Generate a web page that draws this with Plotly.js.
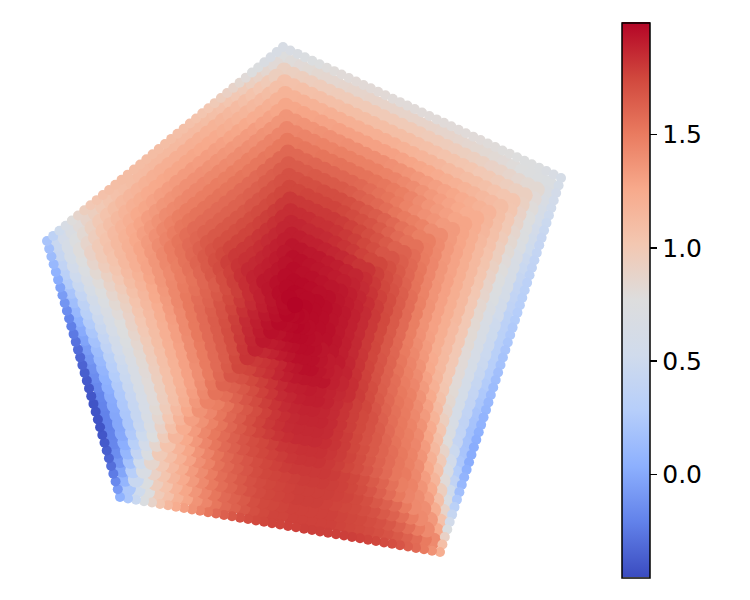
<!DOCTYPE html>
<html><head><meta charset="utf-8"><script src="https://cdn.plot.ly/plotly-3.0.0.min.js"></script>
<style>html,body{margin:0;padding:0;background:#fff}</style></head>
<body><div id="chart" style="width:750px;height:600px"></div>
<script>
const xCorners=[2.83,5.61,4.40,1.20,0.47];
const yCorners=[5.53,4.22,0.48,1.03,3.59];
const xMiddle=2.95, yMiddle=2.95;
const tickValues=[0,0.5,1,1.5];
const tickLabels=["0.0","0.5","1.0","1.5"];
const colorMin=-0.454, colorMax=1.994;
const coolwarm=[[0,"#3b4cc0"],[0.1,"#6282ea"],[0.2,"#8db0fe"],[0.3,"#b6cefa"],[0.4,"#d0dbec"],[0.5,"#dddddd"],[0.6,"#f3c7b1"],[0.7,"#f7a98b"],[0.8,"#e97a5f"],[0.9,"#d0473d"],[1,"#b40426"]];
const borderTopRight=[.65,.67,.7,.72,.74,.76,.78,.79,.8,.8,.81,.81,.81,.81,.81,.8,.8,.8,.8,.8,.8,.8,.8,.8,.8,.8,.8,.8,.79,.79,.78,.78,.77,.76,.75,.73,.7,.67];
const borderRight=[.62,.6,.58,.56,.54,.51,.48,.46,.44,.42,.41,.39,.38,.36,.34,.33,.31,.3,.28,.27,.25,.24,.22,.21,.19,.18,.16,.15,.13,.12,.1,.09,.07,.06,.04,.03,.02,.02,.02,.04,.07,.1,.16,.24,.33,.43,.56,.72,.9,1.08];
const borderBottom=[1.22,1.38,1.5,1.58,1.63,1.68,1.71,1.73,1.75,1.76,1.77,1.78,1.78,1.78,1.78,1.78,1.78,1.78,1.77,1.77,1.76,1.76,1.75,1.74,1.72,1.7,1.67,1.63,1.58,1.52,1.45,1.38,1.31,1.23,1.14,1.02,.88,.72,.46,.22];
const borderLeft=[.05,-.08,-.17,-.24,-.3,-.34,-.37,-.39,-.41,-.42,-.42,-.42,-.42,-.41,-.4,-.39,-.37,-.35,-.33,-.31,-.28,-.25,-.22,-.19,-.15,-.11,-.07,-.03,.02,.06,.1,.13,.16];
const borderTopLeft=[.2,.36,.52,.66,.78,.87,.94,1,1.03,1.06,1.08,1.09,1.1,1.1,1.1,1.1,1.1,1.1,1.1,1.09,1.09,1.08,1.07,1.06,1.05,1.03,1.01,.98,.95,.91,.88,.84,.8,.76,.73,.7,.67,.65];
const wedgeTopRight=[
[.77,.79,.81,.82,.84,.85,.85,.86,.87,.87,.88,.88,.88,.88,.88,.88,.88,.88,.87,.87,.86,.85,.84,.83,.82,.81,.79,.77,.75,.73],
[.92,.93,.94,.95,.96,.96,.97,.97,.98,.98,.98,.98,.98,.98,.98,.98,.97,.97,.96,.95,.94,.93,.92,.9,.89,.87,.85,.83],
[1.06,1.06,1.07,1.07,1.08,1.08,1.08,1.09,1.09,1.09,1.09,1.09,1.09,1.09,1.09,1.08,1.07,1.06,1.05,1.04,1.03,1.02,1,.99,.97,.95,.93],
[1.18,1.18,1.19,1.19,1.19,1.2,1.2,1.2,1.2,1.2,1.2,1.2,1.2,1.19,1.18,1.17,1.16,1.15,1.13,1.12,1.1,1.09,1.07,1.05,1.03],
[1.27,1.27,1.28,1.28,1.29,1.29,1.3,1.3,1.3,1.3,1.3,1.3,1.3,1.29,1.28,1.27,1.26,1.24,1.22,1.2,1.18,1.16,1.14,1.12],
[1.36,1.36,1.37,1.37,1.38,1.39,1.39,1.4,1.4,1.4,1.4,1.4,1.39,1.38,1.37,1.35,1.33,1.31,1.29,1.27,1.24,1.22,1.19],
[1.44,1.44,1.45,1.45,1.46,1.46,1.47,1.47,1.47,1.47,1.47,1.46,1.45,1.43,1.41,1.38,1.35,1.32,1.29,1.26,1.23],
[1.51,1.51,1.52,1.52,1.53,1.53,1.54,1.54,1.54,1.54,1.53,1.52,1.5,1.48,1.45,1.41,1.37,1.34,1.31,1.28],
[1.59,1.59,1.59,1.6,1.6,1.6,1.6,1.6,1.59,1.57,1.55,1.53,1.5,1.46,1.42,1.39,1.37,1.34],
[1.65,1.65,1.65,1.66,1.66,1.66,1.66,1.65,1.63,1.61,1.59,1.56,1.53,1.5,1.48,1.46,1.41],
[1.7,1.7,1.71,1.71,1.72,1.72,1.72,1.71,1.69,1.67,1.65,1.62,1.59,1.55,1.52,1.48],
[1.75,1.75,1.76,1.76,1.76,1.76,1.75,1.73,1.71,1.69,1.66,1.62,1.58,1.55],
[1.8,1.8,1.8,1.8,1.8,1.8,1.79,1.77,1.75,1.72,1.69,1.66,1.62],
[1.84,1.84,1.84,1.83,1.83,1.82,1.8,1.78,1.75,1.72,1.68],
[1.87,1.87,1.86,1.86,1.85,1.84,1.82,1.8,1.77,1.75],
[1.9,1.9,1.89,1.89,1.88,1.87,1.86,1.84,1.82],
[1.93,1.93,1.92,1.92,1.91,1.9,1.88],
[1.95,1.95,1.94,1.93,1.92,1.91],
[1.96,1.95,1.95,1.94],
[1.97,1.97,1.96],
[1.98,1.97]];
const wedgeRight=[
[.72,.7,.67,.64,.61,.58,.55,.52,.49,.46,.43,.41,.39,.37,.35,.34,.33,.32,.31,.3,.28,.26,.24,.22,.2,.19,.18,.19,.2,.23,.28,.38,.52,.7,.88,1.06,1.25],
[.83,.81,.79,.77,.75,.73,.71,.68,.66,.64,.62,.6,.57,.54,.51,.5,.49,.48,.47,.45,.43,.41,.4,.39,.38,.39,.42,.48,.56,.67,.8,.94,1.08,1.22,1.35],
[.93,.92,.9,.88,.86,.84,.82,.8,.78,.76,.74,.72,.7,.68,.66,.65,.64,.63,.62,.61,.6,.6,.6,.62,.65,.7,.78,.88,.98,1.07,1.16,1.25,1.32,1.4],
[1.03,1.02,1,.99,.97,.95,.94,.92,.9,.88,.87,.85,.84,.83,.82,.82,.81,.81,.81,.81,.82,.84,.88,.94,1.02,1.08,1.14,1.2,1.26,1.32,1.37,1.41],
[1.1,1.09,1.08,1.07,1.06,1.05,1.04,1.03,1.02,1.01,1,1,1,1,1,1,1,1,1.01,1.03,1.07,1.12,1.18,1.24,1.28,1.33,1.37,1.41,1.43,1.46],
[1.17,1.16,1.15,1.14,1.13,1.13,1.13,1.13,1.13,1.13,1.13,1.13,1.12,1.12,1.12,1.13,1.14,1.16,1.2,1.25,1.3,1.34,1.38,1.42,1.44,1.46,1.47,1.5],
[1.23,1.23,1.22,1.22,1.22,1.22,1.22,1.22,1.22,1.22,1.22,1.22,1.22,1.22,1.22,1.24,1.26,1.3,1.34,1.38,1.41,1.43,1.46,1.48,1.49,1.51,1.52],
[1.28,1.28,1.28,1.29,1.29,1.29,1.3,1.3,1.3,1.3,1.3,1.3,1.31,1.33,1.35,1.38,1.41,1.44,1.47,1.49,1.5,1.51,1.52,1.54,1.56],
[1.34,1.34,1.35,1.35,1.36,1.36,1.37,1.37,1.38,1.38,1.38,1.39,1.41,1.43,1.45,1.47,1.49,1.51,1.53,1.55,1.56,1.58,1.6],
[1.41,1.42,1.43,1.44,1.44,1.45,1.46,1.47,1.48,1.48,1.48,1.49,1.5,1.52,1.54,1.56,1.57,1.59,1.61,1.63,1.65],
[1.48,1.49,1.5,1.52,1.53,1.54,1.56,1.57,1.58,1.58,1.58,1.59,1.6,1.61,1.62,1.63,1.64,1.66,1.68,1.7],
[1.55,1.57,1.59,1.6,1.62,1.64,1.65,1.66,1.66,1.66,1.67,1.67,1.68,1.69,1.7,1.72,1.73,1.75],
[1.62,1.64,1.66,1.68,1.7,1.72,1.73,1.74,1.74,1.74,1.75,1.75,1.76,1.77,1.78,1.79],
[1.68,1.71,1.73,1.75,1.77,1.79,1.8,1.8,1.8,1.8,1.81,1.82,1.83,1.84],
[1.75,1.78,1.8,1.82,1.84,1.85,1.85,1.85,1.86,1.86,1.87,1.88],
[1.82,1.84,1.85,1.87,1.88,1.89,1.89,1.89,1.9,1.9,1.91],
[1.87,1.88,1.9,1.91,1.92,1.92,1.92,1.93,1.93],
[1.9,1.92,1.93,1.94,1.94,1.95,1.95],
[1.93,1.95,1.96,1.96,1.96],
[1.95,1.97,1.97,1.97],
[1.97,1.98]];
const wedgeBottom=[
[1.42,1.5,1.57,1.62,1.66,1.69,1.71,1.73,1.74,1.75,1.76,1.77,1.77,1.77,1.77,1.77,1.76,1.76,1.74,1.71,1.67,1.62,1.58,1.52,1.44,1.37,1.27,1.18,1.06,.97,.75,.52],
[1.42,1.49,1.56,1.62,1.67,1.7,1.72,1.74,1.75,1.76,1.77,1.77,1.77,1.77,1.77,1.76,1.75,1.74,1.71,1.66,1.62,1.58,1.52,1.44,1.36,1.27,1.17,1.05,.95,.72],
[1.42,1.49,1.56,1.62,1.66,1.7,1.72,1.74,1.75,1.76,1.77,1.78,1.78,1.78,1.77,1.76,1.75,1.73,1.7,1.66,1.61,1.56,1.5,1.42,1.34,1.24,1.15,1.03,.9],
[1.42,1.5,1.58,1.63,1.67,1.71,1.74,1.76,1.77,1.78,1.78,1.78,1.78,1.77,1.76,1.75,1.73,1.7,1.66,1.61,1.56,1.49,1.41,1.33,1.22,1.12,1],
[1.45,1.51,1.57,1.63,1.68,1.72,1.75,1.77,1.78,1.79,1.79,1.79,1.78,1.77,1.76,1.75,1.72,1.68,1.64,1.59,1.54,1.46,1.39,1.29,1.19,1.08],
[1.48,1.55,1.61,1.66,1.71,1.75,1.77,1.79,1.8,1.8,1.8,1.8,1.79,1.77,1.75,1.72,1.68,1.64,1.59,1.53,1.45,1.37,1.27,1.17],
[1.52,1.58,1.63,1.68,1.72,1.75,1.78,1.8,1.82,1.82,1.82,1.81,1.79,1.77,1.75,1.72,1.68,1.63,1.58,1.52,1.44,1.35,1.25],
[1.57,1.62,1.67,1.72,1.76,1.79,1.81,1.83,1.83,1.83,1.82,1.81,1.78,1.75,1.72,1.68,1.63,1.57,1.51,1.43,1.33],
[1.61,1.66,1.71,1.75,1.79,1.82,1.84,1.85,1.85,1.85,1.84,1.82,1.79,1.76,1.71,1.66,1.6,1.53,1.46,1.38],
[1.66,1.7,1.75,1.79,1.82,1.85,1.86,1.86,1.86,1.85,1.83,1.8,1.76,1.71,1.65,1.59,1.52,1.44],
[1.7,1.74,1.78,1.82,1.85,1.87,1.87,1.87,1.86,1.84,1.81,1.77,1.72,1.67,1.61,1.54,1.48],
[1.74,1.78,1.82,1.85,1.87,1.88,1.88,1.87,1.85,1.82,1.78,1.73,1.68,1.62,1.56],
[1.78,1.82,1.85,1.88,1.9,1.9,1.89,1.87,1.85,1.81,1.77,1.72,1.67,1.63],
[1.84,1.86,1.88,1.9,1.91,1.9,1.89,1.86,1.82,1.78,1.74,1.7],
[1.87,1.89,1.93,1.93,1.93,1.92,1.9,1.87,1.83,1.8,1.76],
[1.89,1.91,1.93,1.95,1.95,1.93,1.91,1.87,1.84,1.82,1.8],
[1.91,1.93,1.95,1.95,1.95,1.93,1.91,1.88,1.86],
[1.93,1.95,1.96,1.96,1.95,1.94,1.92,1.91],
[1.95,1.96,1.97,1.97,1.96,1.94],
[1.96,1.97,1.98,1.97,1.96],
[1.97,1.98,1.97]];
const wedgeLeft=[
[.22,.08,-.02,-.1,-.15,-.18,-.2,-.21,-.21,-.2,-.19,-.17,-.15,-.13,-.1,-.07,-.03,.01,.05,.1,.15,.2,.26,.32,.38,.43],
[.45,.3,.18,.09,.03,0,-.01,-.01,0,.01,.03,.05,.08,.11,.14,.18,.22,.26,.31,.36,.41,.46,.51,.56,.6],
[.68,.52,.4,.31,.25,.22,.22,.23,.24,.25,.27,.3,.33,.37,.41,.45,.49,.53,.57,.62,.67,.71,.75],
[.86,.7,.58,.5,.45,.43,.43,.44,.45,.46,.48,.51,.54,.57,.61,.64,.67,.71,.75,.79,.83,.87],
[.98,.86,.76,.69,.65,.63,.63,.64,.65,.66,.68,.7,.72,.75,.77,.8,.83,.86,.89,.92,.96],
[1.05,.97,.9,.85,.82,.8,.8,.8,.81,.82,.83,.85,.87,.89,.9,.92,.94,.97,1,1.03],
[1.15,1.07,1.01,.97,.95,.94,.94,.95,.96,.97,.98,1,1.01,1.03,1.05,1.07,1.1,1.12],
[1.23,1.17,1.12,1.08,1.07,1.07,1.07,1.08,1.08,1.09,1.1,1.11,1.12,1.14,1.15,1.17,1.19],
[1.31,1.26,1.22,1.2,1.19,1.19,1.19,1.2,1.2,1.21,1.21,1.22,1.23,1.25,1.26,1.28],
[1.38,1.35,1.32,1.3,1.3,1.3,1.3,1.3,1.31,1.31,1.32,1.33,1.34,1.35,1.36],
[1.46,1.43,1.41,1.4,1.4,1.41,1.41,1.41,1.42,1.42,1.42,1.43,1.43,1.43],
[1.54,1.52,1.5,1.5,1.5,1.5,1.51,1.51,1.51,1.51,1.51,1.5],
[1.61,1.59,1.58,1.58,1.58,1.58,1.58,1.58,1.58,1.57,1.55],
[1.68,1.66,1.65,1.65,1.65,1.65,1.65,1.64,1.62,1.61],
[1.75,1.74,1.72,1.72,1.72,1.71,1.7,1.69,1.67],
[1.82,1.81,1.8,1.79,1.78,1.76,1.74],
[1.88,1.87,1.86,1.85,1.83,1.8],
[1.92,1.91,1.9,1.88,1.85],
[1.95,1.94,1.92,1.9],
[1.97,1.95,1.94],
[1.98,1.97]];
const wedgeTopLeft=[
[.45,.58,.7,.8,.88,.94,.99,1.03,1.06,1.08,1.1,1.11,1.12,1.13,1.13,1.13,1.13,1.12,1.12,1.11,1.1,1.08,1.06,1.03,1,.97,.93,.89,.85,.81],
[.62,.73,.83,.92,.99,1.05,1.09,1.13,1.15,1.17,1.19,1.2,1.21,1.21,1.21,1.21,1.21,1.2,1.19,1.18,1.16,1.14,1.11,1.08,1.05,1.01,.98,.94],
[.78,.87,.95,1.02,1.08,1.13,1.17,1.2,1.22,1.24,1.25,1.26,1.27,1.27,1.27,1.27,1.26,1.25,1.24,1.22,1.2,1.18,1.16,1.14,1.12,1.1,1.07],
[.9,.98,1.05,1.12,1.17,1.21,1.25,1.27,1.29,1.31,1.32,1.33,1.33,1.33,1.32,1.32,1.31,1.3,1.28,1.27,1.25,1.23,1.22,1.2,1.18],
[.98,1.06,1.13,1.19,1.24,1.28,1.32,1.34,1.36,1.37,1.38,1.39,1.39,1.39,1.38,1.37,1.36,1.35,1.34,1.33,1.32,1.3,1.29,1.27],
[1.05,1.13,1.2,1.26,1.31,1.35,1.38,1.41,1.42,1.43,1.44,1.44,1.44,1.43,1.43,1.42,1.41,1.41,1.4,1.39,1.38,1.37,1.36],
[1.14,1.21,1.28,1.34,1.39,1.43,1.46,1.48,1.49,1.49,1.49,1.49,1.49,1.48,1.48,1.47,1.47,1.46,1.45,1.45,1.44],
[1.21,1.28,1.35,1.41,1.45,1.49,1.52,1.53,1.54,1.54,1.54,1.54,1.53,1.53,1.53,1.52,1.52,1.52,1.51,1.51],
[1.29,1.36,1.43,1.49,1.53,1.56,1.58,1.58,1.58,1.58,1.58,1.58,1.58,1.58,1.58,1.59,1.59,1.59],
[1.36,1.43,1.49,1.54,1.58,1.6,1.62,1.62,1.62,1.62,1.62,1.62,1.63,1.63,1.64,1.64,1.65],
[1.42,1.48,1.54,1.59,1.63,1.66,1.67,1.67,1.67,1.67,1.67,1.68,1.68,1.69,1.69,1.7],
[1.49,1.55,1.61,1.66,1.69,1.71,1.71,1.71,1.72,1.72,1.73,1.73,1.74,1.75],
[1.54,1.6,1.66,1.71,1.74,1.76,1.76,1.76,1.76,1.77,1.78,1.79,1.8],
[1.6,1.67,1.73,1.78,1.8,1.8,1.8,1.81,1.82,1.83,1.84],
[1.65,1.72,1.77,1.82,1.83,1.83,1.84,1.85,1.86,1.87],
[1.72,1.78,1.83,1.86,1.86,1.87,1.88,1.89,1.9],
[1.78,1.84,1.88,1.89,1.9,1.91,1.92],
[1.84,1.88,1.92,1.92,1.93,1.94],
[1.89,1.93,1.95,1.96],
[1.93,1.96,1.97],
[1.96,1.98]];
const middleValue=[1.99];

const wedges=[wedgeTopRight,wedgeRight,wedgeBottom,wedgeLeft,wedgeTopLeft];
const borders=[borderTopRight,borderRight,borderBottom,borderLeft,borderTopLeft];
const ringCount=22;
function place(row,side,shrink,xs,ys,cs){
  const a=side,b=(side+1)%5;
  row.forEach((v,i)=>{
    const u=i/row.length;
    xs.push(xMiddle+shrink*(xCorners[a]+u*(xCorners[b]-xCorners[a])-xMiddle));
    ys.push(yMiddle+shrink*(yCorners[a]+u*(yCorners[b]-yCorners[a])-yMiddle));
    cs.push(v);
  });
}
const ix=[],iy=[],ic=[];
for(let k=0;k<ringCount-1;k++){
  wedges.forEach((w,s)=>place(w[k],s,1-(k+1)/ringCount,ix,iy,ic));
}
ix.push(xMiddle);iy.push(yMiddle);ic.push(middleValue[0]);
const bx=[],by=[],bc=[];
borders.forEach((r,s)=>place(r,s,1,bx,by,bc));
const shared={colorscale:coolwarm,cmin:colorMin,cmax:colorMax,line:{width:0}};
const traces=[
 {type:"scatter",mode:"markers",x:ix,y:iy,hoverinfo:"skip",showlegend:false,
  marker:Object.assign({size:16,color:ic,opacity:1},shared)},
 {type:"scatter",mode:"markers",x:bx,y:by,hoverinfo:"skip",showlegend:false,
  marker:Object.assign({size:10,color:bc,opacity:1,showscale:true,colorbar:{
    thickness:28,thicknessmode:"pixels",len:555,lenmode:"pixels",
    x:622/750,xanchor:"left",y:0.5,yanchor:"middle",xpad:0,ypad:0,
    outlinewidth:1.5,outlinecolor:"#000",
    ticks:"outside",ticklen:7,tickwidth:1.5,tickcolor:"#000",
    tickmode:"array",tickvals:tickValues,ticktext:tickLabels,
    tickfont:{family:"DejaVu Sans",size:25,color:"#000"}
  }},shared)}
];
const layout={width:750,height:600,margin:{l:0,r:0,t:0,b:0,autoexpand:false},
 paper_bgcolor:"#fff",plot_bgcolor:"#fff",showlegend:false,
 xaxis:{range:[0,7.5],visible:false,fixedrange:true},
 yaxis:{range:[0,6],visible:false,fixedrange:true}};
Plotly.newPlot("chart",traces,layout,{displayModeBar:false,staticPlot:true});
</script></body></html>
